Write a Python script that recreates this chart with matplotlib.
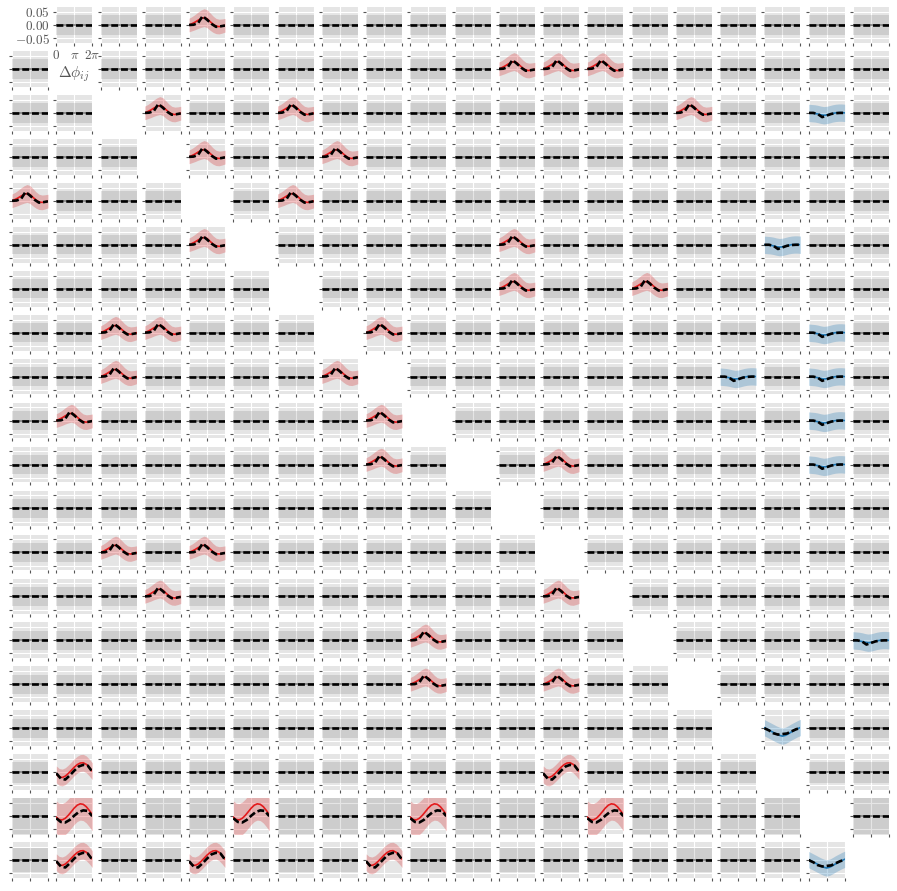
import numpy as np
import matplotlib
matplotlib.use("Agg")
import matplotlib.pyplot as plt

plt.style.use("ggplot")
plt.rcParams["mathtext.fontset"] = "cm"
plt.rcParams["font.family"] = ["DejaVu Serif"]

n_units = 20

# phase grid (radians) for the fitted curves and for the binned data
phase_fine = [0.0, 0.52, 1.05, 1.57, 2.09, 2.62, 3.14, 3.67, 4.19, 4.71, 5.24, 5.76, 6.28]
phase_bins = [0.0, 0.79, 1.57, 2.36, 3.14, 3.93, 4.71, 5.50, 6.28]

# null (non-significant) pairs
flat_model = [0.0, 0.0, 0.0, 0.0, 0.0, 0.0, 0.0, 0.0, 0.0, 0.0, 0.0, 0.0, 0.0]
flat_data = [0.0, 0.0, 0.0, 0.0, 0.0, 0.0, 0.0, 0.0, 0.0]
row_band_hw = [0.037, 0.037, 0.037, 0.037, 0.037, 0.037, 0.037, 0.037, 0.037, 0.037,
               0.037, 0.037, 0.037, 0.037, 0.037, 0.037, 0.037, 0.040, 0.075, 0.045]

# positive coupling: bump near pi
peak_model = [0.000, 0.005, 0.011, 0.018, 0.024, 0.028, 0.024, 0.013, 0.003, -0.004, -0.006, -0.004, -0.001]
peak_data = [0.000, 0.001, 0.007, 0.034, 0.020, 0.004, -0.007, -0.005, -0.002]
peak_hw = [0.026, 0.027, 0.029, 0.031, 0.033, 0.034, 0.034, 0.033, 0.031, 0.029, 0.028, 0.027, 0.026]

# sinusoidal coupling (rows 17, 19)
sine_model = [-0.008, -0.018, -0.020, -0.015, -0.005, 0.007, 0.019, 0.029, 0.035, 0.036, 0.030, 0.018, 0.004]
sine_data = [-0.004, -0.024, -0.028, -0.012, 0.006, 0.022, 0.028, 0.025, 0.002]
sine_hw = [0.032, 0.032, 0.032, 0.032, 0.032, 0.032, 0.032, 0.032, 0.032, 0.032, 0.032, 0.032, 0.032]

# sinusoidal coupling (row 18, wider uncertainty)
sinew_model = [-0.004, -0.013, -0.014, -0.008, 0.003, 0.017, 0.031, 0.042, 0.047, 0.045, 0.036, 0.022, 0.006]
sinew_data = [-0.008, -0.022, -0.024, -0.014, 0.002, 0.016, 0.022, 0.020, 0.000]
sinew_hw = [0.062, 0.062, 0.062, 0.062, 0.062, 0.062, 0.062, 0.062, 0.062, 0.062, 0.062, 0.062, 0.062]

# negative coupling: shallow dip
dip_model = [0.000, -0.001, -0.002, -0.004, -0.007, -0.009, -0.008, -0.005, -0.002, 0.000, 0.001, 0.001, 0.000]
dip_data = [0.000, 0.000, -0.004, -0.016, -0.010, -0.004, -0.001, 0.000, 0.000]
dip_hw = [0.033, 0.033, 0.033, 0.033, 0.033, 0.033, 0.033, 0.033, 0.033, 0.033, 0.033, 0.033, 0.033]

# negative coupling: V shape
vee_model = [0.002, -0.004, -0.010, -0.016, -0.022, -0.027, -0.030, -0.027, -0.021, -0.014, -0.008, -0.002, 0.003]
vee_data = [0.000, -0.008, -0.019, -0.024, -0.022, -0.020, -0.012, -0.004, 0.001]
vee_hw = [0.031, 0.031, 0.031, 0.031, 0.031, 0.031, 0.031, 0.031, 0.031, 0.031, 0.031, 0.031, 0.031]

peak_cells = [(0, 4), (1, 11), (1, 12), (1, 13), (2, 3), (2, 6), (2, 15), (3, 4), (3, 7),
              (4, 0), (4, 6), (5, 4), (5, 11), (6, 11), (6, 14), (7, 2), (7, 3), (7, 8),
              (8, 2), (8, 7), (9, 1), (9, 8), (10, 8), (10, 12), (12, 2), (12, 4),
              (13, 3), (13, 12), (14, 9), (15, 9), (15, 12)]
sine_cells = [(17, 1), (17, 12), (19, 1), (19, 4), (19, 8)]
sinew_cells = [(18, 1), (18, 5), (18, 9), (18, 13)]
dip_cells = [(2, 18), (5, 17), (7, 18), (8, 16), (8, 18), (9, 18), (10, 18), (14, 19)]
vee_cells = [(16, 17), (19, 18)]

RED = "#e41a1c"
RED_BAND = "#d62728"
BLUE = "#1f77b4"

templates = {
    "peak": (peak_model, peak_data, peak_hw, RED, RED_BAND, 0.28),
    "sine": (sine_model, sine_data, sine_hw, RED, RED_BAND, 0.28),
    "sinew": (sinew_model, sinew_data, sinew_hw, RED, RED_BAND, 0.28),
    "dip": (dip_model, dip_data, dip_hw, BLUE, BLUE, 0.28),
    "vee": (vee_model, vee_data, vee_hw, BLUE, BLUE, 0.28),
}
kind_of = {}
for cells, kind in [(peak_cells, "peak"), (sine_cells, "sine"), (sinew_cells, "sinew"),
                    (dip_cells, "dip"), (vee_cells, "vee")]:
    for rc in cells:
        kind_of[rc] = kind

fig = plt.figure(figsize=(8.97, 8.91), dpi=100)
fig.patch.set_facecolor("white")
gs = fig.add_gridspec(n_units, n_units, left=0.0134, right=0.991, bottom=0.0146, top=0.992,
                      wspace=0.23, hspace=0.23)

xf = np.array(phase_fine)
xb = np.array(phase_bins)

for i in range(n_units):
    for j in range(n_units):
        ax = fig.add_subplot(gs[i, j])
        if i == j:
            ax.axis("off")
            continue
        kind = kind_of.get((i, j))
        if kind is None:
            model = np.array(flat_model)
            data = np.array(flat_data)
            hw = row_band_hw[i]
            lc, bc, ba = "0.5", "k", 0.10
            lw_model = 1.2
        else:
            m, d, h, lc, bc, ba = templates[kind]
            model = np.array(m)
            data = np.array(d)
            hw = np.array(h)
            lw_model = 1.2
        ax.fill_between(xf, model - hw, model + hw, color=bc, alpha=ba, lw=0, zorder=2)
        ax.plot(xf, model, color=lc, lw=lw_model, zorder=3)
        ax.plot(xb, data, color="k", lw=1.9, ls=(0, (2.6, 1.1)), zorder=4)
        ax.set_xlim(0, 2 * np.pi)
        ax.set_ylim(-0.068, 0.068)
        ax.set_xticks([0, np.pi, 2 * np.pi])
        ax.set_yticks([-0.05, 0.0, 0.05])
        ax.tick_params(length=2.5, width=0.8, colors="#555555", pad=2)
        for s in ax.spines.values():
            s.set_visible(False)
        if (i, j) == (0, 1):
            ax.set_xticklabels(["$0$", r"$\pi$", r"$2\pi$"], fontsize=9.5, color="#555555")
            ax.set_yticklabels(["$-0.05$", "$0.00$", "$0.05$"], fontsize=9.5, color="#555555")
            ax.set_xlabel(r"$\Delta\phi_{ij}$", fontsize=11, color="#555555", labelpad=2)
        else:
            ax.tick_params(labelbottom=False, labelleft=False)

fig.savefig("out.png", dpi=100, facecolor="white")
